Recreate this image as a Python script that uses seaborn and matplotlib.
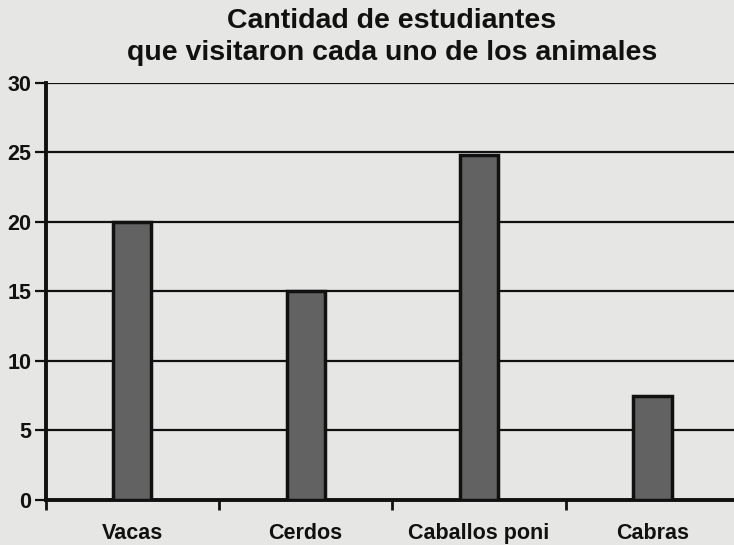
import matplotlib
matplotlib.use("Agg")
import matplotlib.pyplot as plt
import seaborn as sns
import pandas as pd

# ── Data ─────────────────────────────────────────────────────────────────────
animales = ["Vacas", "Cerdos", "Caballos poni", "Cabras"]
estudiantes = [20, 15, 24.8, 7.5]
y_ticks = [0, 5, 10, 15, 20, 25, 30]
titulo = "Cantidad de estudiantes\nque visitaron cada uno de los animales"

df = pd.DataFrame({"animal": animales, "n": estudiantes})

sns.set_theme(style="white")
plt.rcParams["font.family"] = ["Liberation Sans", "DejaVu Sans"]

fig = plt.figure(figsize=(7.34, 5.45), dpi=100, facecolor="#e6e6e4")
ax = fig.add_axes([0.062, 0.083, 0.945, 0.765])
ax.set_facecolor("#e6e6e4")

sns.barplot(data=df, x="animal", y="n", order=animales, width=0.22,
            color="#626262", saturation=1, edgecolor="#111111",
            linewidth=2.5, ax=ax, zorder=3)

ax.set_ylim(0, 30)
ax.set_xlim(-0.5, 3.5)
ax.set_yticks(y_ticks)
ax.set_yticklabels([str(t) for t in y_ticks], fontsize=15.5, fontweight="bold")
ax.yaxis.grid(True, color="#111111", linewidth=1.6)
ax.set_axisbelow(True)

# category labels at centres, tick marks at the boundaries
ax.set_xticks(range(len(animales)))
ax.set_xticklabels(animales, fontsize=15.5, fontweight="bold")
ax.set_xticks([-0.5, 0.5, 1.5, 2.5], minor=True)
ax.tick_params(axis="x", which="major", length=0, pad=17)
ax.tick_params(axis="x", which="minor", length=7, width=2, color="#111111",
               direction="out", bottom=True)
ax.tick_params(axis="y", length=8, width=1.6, color="#111111", pad=2,
               left=True, labelcolor="#111111")
ax.tick_params(axis="x", labelcolor="#111111")

for s in ["top", "right"]:
    ax.spines[s].set_visible(False)
ax.spines["left"].set_linewidth(2.8)
ax.spines["left"].set_color("#111111")
ax.spines["bottom"].set_linewidth(2.8)
ax.spines["bottom"].set_color("#111111")

ax.set_xlabel("")
ax.set_ylabel("")
fig.text(0.534, 0.985, titulo, ha="center", va="top", fontsize=20.5,
         fontweight="bold", color="#111111", linespacing=1.3)

fig.savefig("out.png", dpi=100, facecolor=fig.get_facecolor())
